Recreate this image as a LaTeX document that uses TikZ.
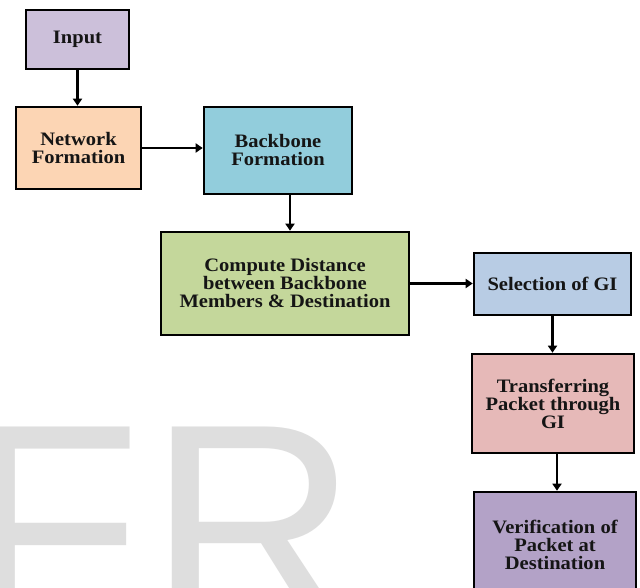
\documentclass[tikz,border=0pt]{standalone}
\usepackage{fontspec}
\setmainfont[FakeStretch=1.08]{Liberation Serif}
\newfontfamily\wmfont{Liberation Sans}
\usetikzlibrary{arrows.meta}
\definecolor{cInput}{HTML}{CCC0DA}
\definecolor{cNet}{HTML}{FCD5B4}
\definecolor{cBack}{HTML}{92CDDC}
\definecolor{cComp}{HTML}{C4D79B}
\definecolor{cSel}{HTML}{B8CCE4}
\definecolor{cTrans}{HTML}{E6B9B8}
\definecolor{cVer}{HTML}{B3A2C7}
\definecolor{cWm}{HTML}{DEDEDE}
\definecolor{cTxt}{HTML}{151515}
\begin{document}
\begin{tikzpicture}[x=1pt,y=-1pt,
  box/.style={draw=black, line width=2.6pt, inner sep=0pt, align=center,
    text=cTxt, font=\bfseries\fontsize{19}{18}\selectfont},
  arr/.style={line width=2.4pt, -{Triangle[length=7pt,width=9pt]}},
  wm/.style={text=cWm, inner sep=0pt, anchor=base west,
    font=\wmfont\fontsize{290}{290}\selectfont}]
\useasboundingbox (0,0) rectangle (640,588);
\clip (0,0) rectangle (640,588);
\fill[white] (0,0) rectangle (640,588);
% watermark
\node[wm] (wmF) at (-36,626) {F};
\node[wm] (wmR) at (148,626) {R};
% boxes
\node[box, fill=cInput, minimum width=103pt, minimum height=59pt] (input) at (77.5,39.5) {Input};
\node[box, fill=cNet, minimum width=125pt, minimum height=82pt] (net) at (78.5,148) {Network\\Formation};
\node[box, fill=cBack, minimum width=148pt, minimum height=87pt] (bb) at (278,150.5) {Backbone\\Formation};
\node[box, fill=cComp, minimum width=248pt, minimum height=103pt] (cd) at (285,283.5) {Compute Distance\\between Backbone\\Members \& Destination};
\node[box, fill=cSel, minimum width=157pt, minimum height=62pt] (sel) at (552.5,284) {Selection of GI};
\node[box, fill=cTrans, minimum width=162pt, minimum height=99pt] (tr) at (553,403.5) {Transferring\\Packet through\\GI};
\node[box, fill=cVer, minimum width=162pt, minimum height=106pt] (ver) at (555,545) {Verification of\\Packet at\\Destination};
% connectors
\draw[arr] (input.south) -- (input.south |- net.north);
\draw[arr] (net.east) -- (net.east -| bb.west);
\draw[arr] ([xshift=12pt]bb.south) -- ([xshift=12pt]bb.south |- cd.north);
\draw[arr] (cd.east) -- (cd.east -| sel.west);
\draw[arr] (sel.south) -- (sel.south |- tr.north);
\draw[arr] ([xshift=4pt]tr.south) -- ([xshift=4pt]tr.south |- ver.north);
\end{tikzpicture}
\end{document}
